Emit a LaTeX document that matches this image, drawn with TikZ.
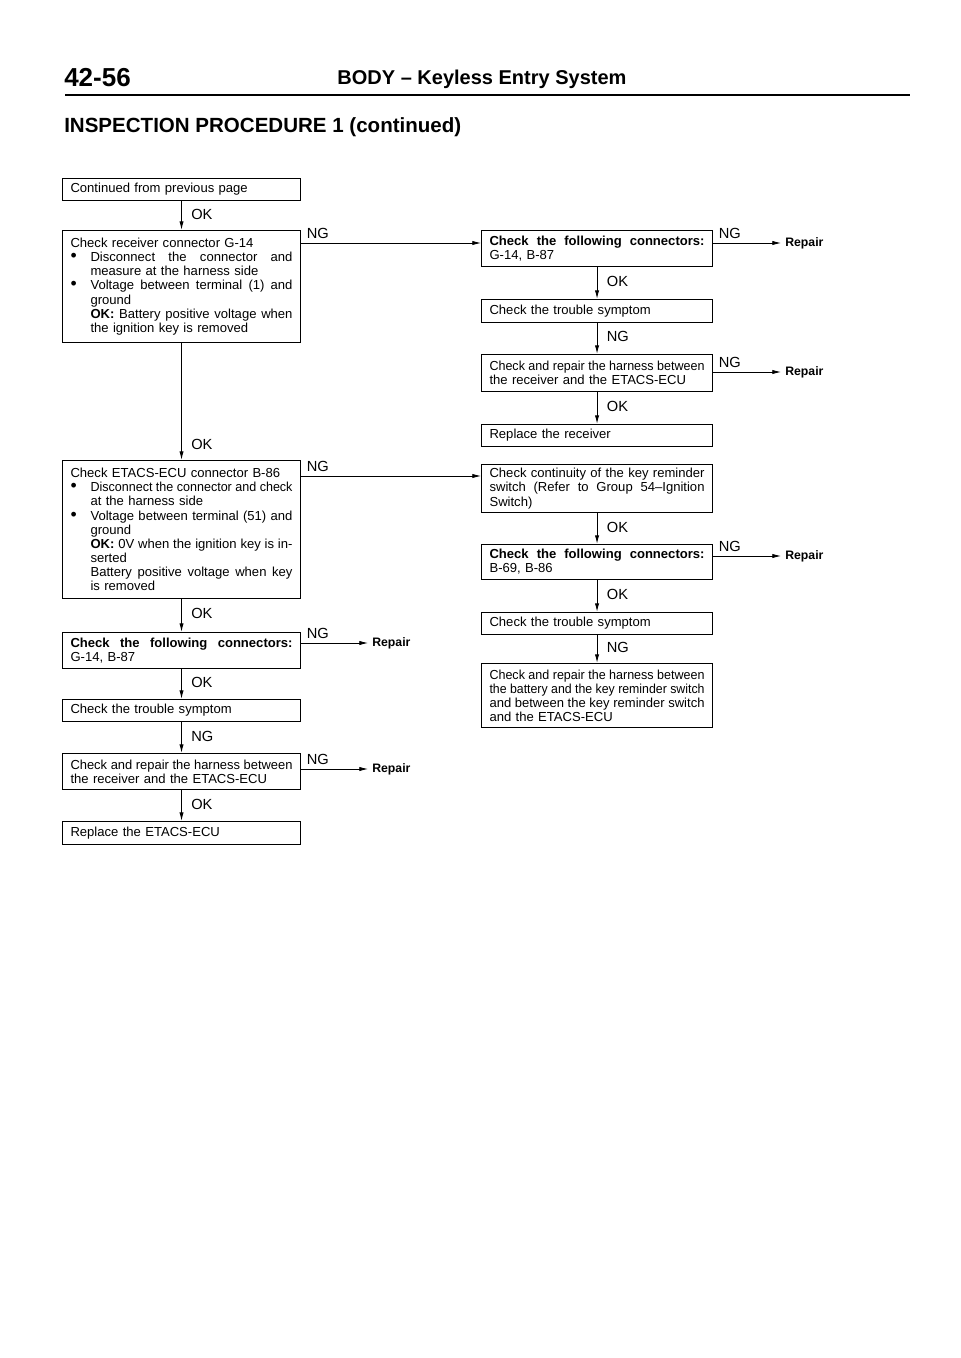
\documentclass[tikz,border=0pt]{standalone}
\usepackage{fontspec}
\setmainfont{Liberation Sans}
\usepackage{graphicx}
\usepackage{tikz}
\usetikzlibrary{arrows.meta}
\setlength{\parindent}{0pt}

\newcommand{\boxfont}{\fontsize{9.8}{10.6}\selectfont}
\newlength{\bulind}\setlength{\bulind}{15pt}
\newlength{\fitw}
\newsavebox{\linebox}
\newcommand{\tightsp}{\spaceskip=.278em plus 1em minus .1em\relax}
% one justified line, squeezed sideways when it is too long
\newcommand{\fitline}[2]{\setlength{\fitw}{#1}\sbox{\linebox}{\tightsp #2}%
    \ifdim\wd\linebox>\fitw
        \pgfmathsetmacro{\fitratio}{\fitw/\wd\linebox}\scalebox{\fitratio}[1]{\usebox{\linebox}}%
    \else{\tightsp\makebox[\fitw][s]{#2}}\fi}
\newcommand{\fullj}[1]{\fitline{\hsize}{#1}}
\newcommand{\bulj}[1]{\makebox[\bulind][l]{\scalebox{1.35}{\textbullet}}\fitline{\dimexpr\hsize-\bulind\relax}{#1}}
\newcommand{\indj}[1]{\hspace*{\bulind}\fitline{\dimexpr\hsize-\bulind\relax}{#1}}
\newcommand{\indl}[1]{\hspace*{\bulind}#1}

\begin{document}
\begin{tikzpicture}[
    x=0.75pt, y=-0.75pt,
    box/.style={draw, line width=0.8pt, anchor=north west, inner xsep=6pt, inner ysep=2pt, align=left, font=\boxfont},
    lbox/.style={box, text width=166.5pt},
    rbox/.style={box, text width=161.25pt},
    lbl/.style={font=\fontsize{11}{11}\selectfont, inner sep=2pt},
    repair/.style={font=\bfseries\fontsize{9.2}{9.2}\selectfont, anchor=west, inner sep=3pt},
    arrow/.style={-{Latex[length=6.5pt,width=3.2pt]}, line width=0.7pt},
    side/.style={arrow, line width=0.55pt}
]
    \useasboundingbox (0,0) rectangle (960,1358);

    % Page header
    \node[anchor=west, inner sep=0pt, font=\bfseries\fontsize{19.5}{19.5}\selectfont] (pageno) at (64,78) {42-56};
    \node[inner sep=0pt, font=\bfseries\fontsize{15}{15}\selectfont] (title) at (482,79) {BODY -- Keyless Entry System};
    \draw[line width=2pt] (65,95) -- (910,95);
    \node[anchor=west, inner sep=0pt, font=\bfseries\fontsize{15.4}{15.4}\selectfont] (proc) at (64,127) {INSPECTION PROCEDURE 1 (continued)};

    % Left column
    \node[lbox, minimum height=16.5pt] (prev) at (62,178) {Continued from previous page};
    \node[lbox, minimum height=84pt] (recv) at (62,230) {Check receiver connector G-14\\
        \bulj{Disconnect the connector and}\\
        \indl{measure at the harness side}\\
        \bulj{Voltage between terminal (1) and}\\
        \indl{ground}\\
        \indj{\textbf{OK:} Battery positive voltage when}\\
        \indl{the ignition key is removed}};
    \node[lbox, minimum height=103.5pt] (etacs) at (62,460) {Check ETACS-ECU connector B-86\\
        \bulj{Disconnect the connector and check}\\
        \indl{at the harness side}\\
        \bulj{Voltage between terminal (51) and}\\
        \indl{ground}\\
        \indj{\textbf{OK:} 0V when the ignition key is in-}\\
        \indl{serted}\\
        \indj{Battery positive voltage when key}\\
        \indl{is removed}};
    \node[lbox, minimum height=27pt] (lconn) at (62,632) {\fullj{\textbf{Check the following connectors:}}\\G-14, B-87};
    \node[lbox, minimum height=16.5pt] (lsym) at (62,699) {Check the trouble symptom};
    \node[lbox, minimum height=27pt] (lharn) at (62,753) {\fullj{Check and repair the harness between}\\the receiver and the ETACS-ECU};
    \node[lbox, minimum height=17pt] (lrepl) at (62,821) {Replace the ETACS-ECU};

    % Right column
    \node[rbox, minimum height=27pt] (rconn) at (481,230) {\fullj{\textbf{Check the following connectors:}}\\G-14, B-87};
    \node[rbox, minimum height=17pt] (rsym) at (481,299) {Check the trouble symptom};
    \node[rbox, minimum height=27.5pt] (rharn) at (481,354) {\fullj{Check and repair the harness between}\\the receiver and the ETACS-ECU};
    \node[rbox, minimum height=16.5pt] (rrepl) at (481,424) {Replace the receiver};
    \node[rbox, minimum height=36pt] (rcont) at (481,464) {\fullj{Check continuity of the key reminder}\\
        \fullj{switch (Refer to Group 54--Ignition}\\Switch)};
    \node[rbox, minimum height=26pt] (rconn2) at (481,544) {\fullj{\textbf{Check the following connectors:}}\\B-69, B-86};
    \node[rbox, minimum height=16.5pt] (rsym2) at (481,612) {Check the trouble symptom};
    \node[rbox, minimum height=48pt] (rharn2) at (481,663) {\fullj{Check and repair the harness between}\\
        \fullj{the battery and the key reminder switch}\\
        \fullj{and between the key reminder switch}\\and the ETACS-ECU};

    % Repair ends
    \node[repair] (rep1) at (781,243) {Repair};
    \node[repair] (rep2) at (781,372) {Repair};
    \node[repair] (rep3) at (781,556) {Repair};
    \node[repair] (rep4) at (368,643) {Repair};
    \node[repair] (rep5) at (368,769) {Repair};

    % OK / NG flow, left
    \draw[arrow] (prev) -- (recv) node[lbl, right=5pt, pos=0.45] {OK};
    \draw[arrow] (recv) -- (etacs) node[lbl, right=5pt, pos=0.87] {OK};
    \draw[arrow] (etacs) -- (lconn) node[lbl, right=5pt, pos=0.45] {OK};
    \draw[arrow] (lconn) -- (lsym) node[lbl, right=5pt, pos=0.45] {OK};
    \draw[arrow] (lsym) -- (lharn) node[lbl, right=5pt, pos=0.45] {NG};
    \draw[arrow] (lharn) -- (lrepl) node[lbl, right=5pt, pos=0.45] {OK};

    % OK / NG flow, right
    \draw[arrow] (rconn) -- (rsym) node[lbl, right=5pt, pos=0.45] {OK};
    \draw[arrow] (rsym) -- (rharn) node[lbl, right=5pt, pos=0.45] {NG};
    \draw[arrow] (rharn) -- (rrepl) node[lbl, right=5pt, pos=0.45] {OK};
    \draw[arrow] (rcont) -- (rconn2) node[lbl, right=5pt, pos=0.45] {OK};
    \draw[arrow] (rconn2) -- (rsym2) node[lbl, right=5pt, pos=0.45] {OK};
    \draw[arrow] (rsym2) -- (rharn2) node[lbl, right=5pt, pos=0.45] {NG};

    % NG branches
    \coordinate (ng1) at ([yshift=-9.75pt]recv.north east);
    \coordinate (ng2) at ([yshift=-12pt]etacs.north east);
    \draw[side] (ng1) -- (ng1 -| rconn.west) node[lbl, pos=0, anchor=south west, xshift=2pt, yshift=1pt] {NG};
    \draw[side] (ng2) -- (ng2 -| rcont.west) node[lbl, pos=0, anchor=south west, xshift=2pt, yshift=1pt] {NG};
    \draw[side] (rep1 -| rconn.east) -- (rep1.west) node[lbl, pos=0, anchor=south west, xshift=2pt, yshift=1pt] {NG};
    \draw[side] (rep2 -| rharn.east) -- (rep2.west) node[lbl, pos=0, anchor=south west, xshift=2pt, yshift=1pt] {NG};
    \draw[side] (rep3 -| rconn2.east) -- (rep3.west) node[lbl, pos=0, anchor=south west, xshift=2pt, yshift=1pt] {NG};
    \draw[side] (rep4 -| lconn.east) -- (rep4.west) node[lbl, pos=0, anchor=south west, xshift=2pt, yshift=1pt] {NG};
    \draw[side] (rep5 -| lharn.east) -- (rep5.west) node[lbl, pos=0, anchor=south west, xshift=2pt, yshift=1pt] {NG};
\end{tikzpicture}
\end{document}
